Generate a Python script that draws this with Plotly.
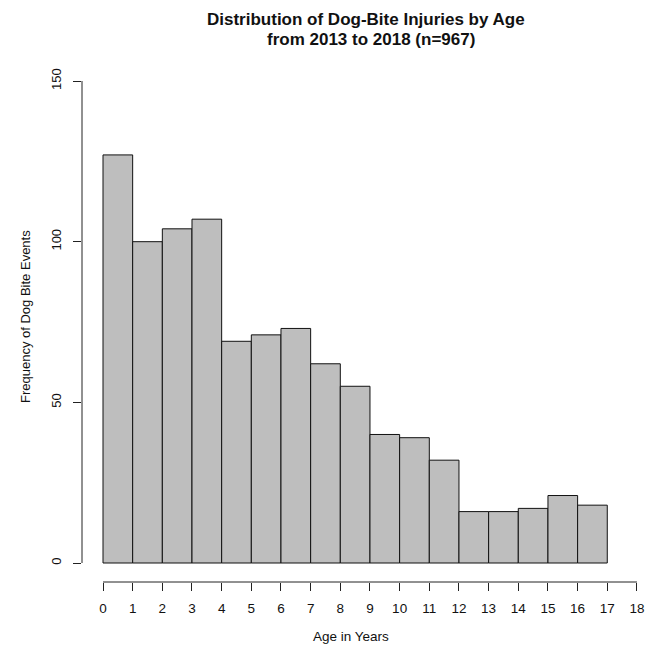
import plotly.graph_objects as go

# Histogram of dog-bite injuries by age (one-year bins)
bin_starts = list(range(0, 17))
counts = [127, 100, 104, 107, 69, 71, 73, 62, 55, 40, 39, 32, 16, 16, 17, 21, 18]
x_ticks = list(range(0, 19))
y_ticks = [0, 50, 100, 150]

title_lines = ["Distribution of Dog-Bite Injuries by Age", "from 2013 to 2018 (n=967)"]
x_title = "Age in Years"
y_title = "Frequency of Dog Bite Events"

W, H = 654, 649
L, R, T, B = 82, 4, 75, 67
plot_w = W - L - R
plot_h = H - T - B

FONT = "Liberation Sans, Arial, Helvetica, sans-serif"

fig = go.Figure(
    go.Bar(
        x=[s + 0.5 for s in bin_starts],
        y=counts,
        width=1,
        marker=dict(color="#BEBEBE", line=dict(color="#111111", width=1)),
        hoverinfo="x+y",
    )
)

fig.update_layout(
    width=W,
    height=H,
    margin=dict(l=L, r=R, t=T, b=B, pad=0),
    paper_bgcolor="white",
    plot_bgcolor="white",
    showlegend=False,
    font=dict(family=FONT, size=13, color="#111111"),
    xaxis=dict(
        range=[-0.708, 18.44],
        tickmode="array",
        tickvals=x_ticks,
        ticktext=[str(v) for v in x_ticks],
        ticks="outside",
        ticklen=8,
        tickwidth=1,
        tickcolor="#222222",
        showgrid=False,
        zeroline=False,
        showline=False,
        ticklabelstandoff=6,
        tickfont=dict(size=13.5),
    ),
    yaxis=dict(
        range=[-5.91, 151.87],
        tickmode="array",
        tickvals=y_ticks,
        ticktext=[str(v) for v in y_ticks],
        ticks="outside",
        ticklen=8,
        tickwidth=1,
        tickcolor="#222222",
        tickangle=-90,
        showgrid=False,
        zeroline=False,
        showline=False,
        ticklabelstandoff=7,
        tickfont=dict(size=13),
    ),
)

# R-style detached axis lines spanning only the tick range
fig.add_shape(type="line", xref="x", yref="paper", x0=x_ticks[0], x1=x_ticks[-1], y0=0, y1=0,
              line=dict(color="#222222", width=1))
fig.add_shape(type="line", xref="paper", yref="y", x0=0, x1=0, y0=y_ticks[0], y1=y_ticks[-1],
              line=dict(color="#222222", width=1))


def px_x(px):
    return (px - L) / plot_w


def px_y(py):
    return (H - B - py) / plot_h


annotations = [
    dict(text=f"<b>{title_lines[0]}</b>", x=px_x(366), y=px_y(19), font=dict(size=17)),
    dict(text=f"<b>{title_lines[1]}</b>", x=px_x(371), y=px_y(39), font=dict(size=17)),
    dict(text=x_title, x=px_x(351), y=px_y(636), font=dict(size=13.5)),
    dict(text=y_title, x=px_x(25), y=px_y(317), font=dict(size=13), textangle=-90),
]
for a in annotations:
    fig.add_annotation(xref="paper", yref="paper", xanchor="center", yanchor="middle",
                       showarrow=False, **a)

fig.write_html("out.html")
